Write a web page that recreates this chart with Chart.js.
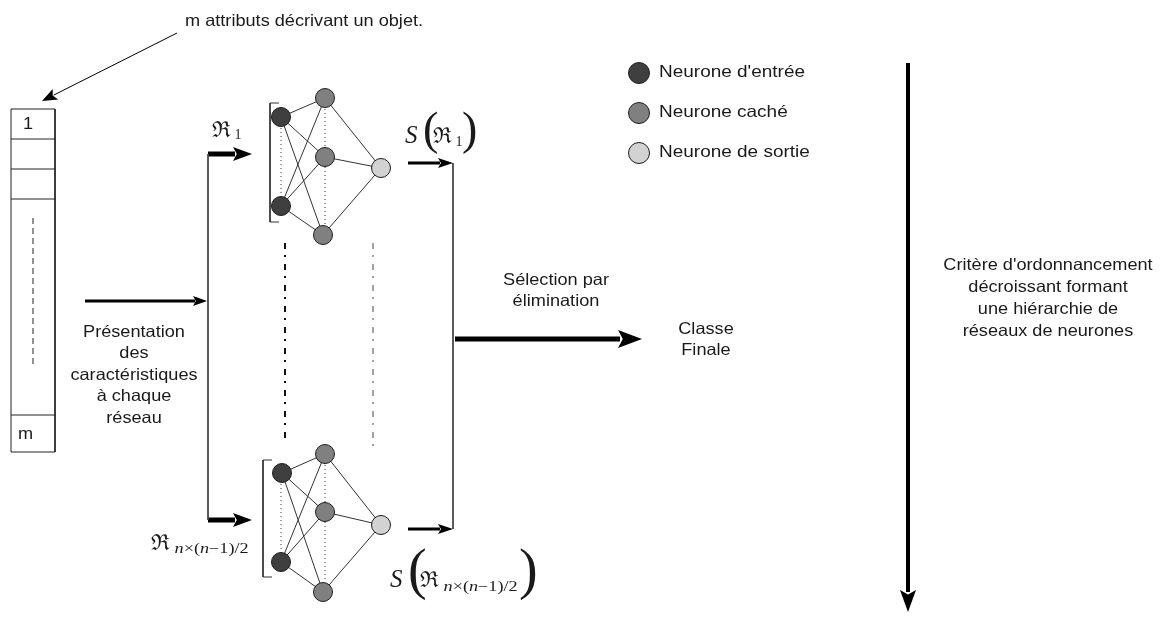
<!DOCTYPE html>
<html><head><meta charset="utf-8">
<style>html,body{margin:0;padding:0;background:#fff}canvas{display:block}</style>
<script src="https://cdn.jsdelivr.net/npm/chart.js@4/dist/chart.umd.min.js"></script>
</head><body>
<canvas id="c" width="1175" height="624"></canvas>
<script>
// ---------- diagram data (x, y in page units) ----------
const netInputs  = [[[281,117],[281,206]], [[282,473],[281,562]]];
const netHidden  = [[[325,98],[325,157],[323,235]], [[325,454],[325,512],[323,592]]];
const netOutputs = [[381,168], [381,525]];
const legendNeurons = [[639,73],[639,113],[639,153]];
const legendLabels  = ["Neurone d'entrée", "Neurone caché", "Neurone de sortie"];

const vectorBox  = [11, 55, 109, 452];          // left, right, top, bottom
const vectorRows = [139, 169, 199, 415];        // separators of attribute cells
const vectorCellLabels = [["1", 23, 124], ["m", 18, 434]];

const brackets = [[270, 279, 103, 222], [263, 272, 460, 577]];
const inputDots  = [[281,128,281,196],[281,484,281,552]];
const hiddenDots = [[325,109,325,147],[325,167,325,225],[325,465,325,502],[325,522,325,582]];
const dashDots   = [[285,243,285,440,2,'#111'],[373,243,373,452,1,'#444']];
const connectors = [[208,154,208,520],[453,163,453,529]];
const vectorDash = [33,218,33,368];

// arrows: x1,y1,x2,y2, shaft width, head length, head half width
const arrows = [
  [177,33, 42,101, 1, 15, 6],
  [85,301, 207,301, 3, 14, 5],
  [208,154, 252,154, 5, 19, 7],
  [208,520, 252,520, 5, 19, 7],
  [408,163, 453,163, 3, 15, 5],
  [408,529, 453,529, 3, 15, 5],
  [455,339, 642,339, 5, 24, 9],
  [908,63, 908,612, 4, 22, 8]
];

const textBlocks = [
  [["m attributs décrivant un objet."], 185, 21, 'left', 20],
  [["Présentation","des","caractéristiques","à chaque","réseau"], 134, 332, 'center', 21.5],
  [["Sélection par","élimination"], 556, 280, 'center', 21.5],
  [["Classe","Finale"], 706, 329, 'center', 21],
  [["Critère d'ordonnancement","décroissant formant","une hiérarchie de","réseaux de neurones"], 1048, 265, 'center', 22]
];

// ---------- build datasets ----------
const seg = (x1,y1,x2,y2,opt) => Object.assign({
  type:'scatter', showLine:true, data:[{x:x1,y:y1},{x:x2,y:y2}],
  borderColor:'#222', borderWidth:1, pointRadius:0, pointHoverRadius:0,
  clip:false, order:5, fill:false
}, opt||{});

const datasets = [];
const neuronStyle = (col) => ({type:'scatter', backgroundColor:col, borderColor:'#1e1e1e', borderWidth:1,
  pointRadius:9.5, pointHoverRadius:9.5, clip:false, order:0, showLine:false});
datasets.push(Object.assign({data: netInputs.flat().map(p=>({x:p[0],y:p[1]}))}, neuronStyle('#3f3f3f')));
datasets.push(Object.assign({data: netHidden.flat().map(p=>({x:p[0],y:p[1]}))}, neuronStyle('#808080')));
datasets.push(Object.assign({data: netOutputs.map(p=>({x:p[0],y:p[1]}))}, neuronStyle('#d2d2d2')));
datasets.push(Object.assign({data: [{x:legendNeurons[0][0],y:legendNeurons[0][1]}]}, neuronStyle('#3f3f3f'), {pointRadius:10.5}));
datasets.push(Object.assign({data: [{x:legendNeurons[1][0],y:legendNeurons[1][1]}]}, neuronStyle('#808080'), {pointRadius:10.5}));
datasets.push(Object.assign({data: [{x:legendNeurons[2][0],y:legendNeurons[2][1]}]}, neuronStyle('#d2d2d2'), {pointRadius:10.5}));

netInputs.forEach((ins, n) => {
  ins.forEach(i => netHidden[n].forEach(h => datasets.push(seg(i[0],i[1],h[0],h[1],{borderColor:'#333'}))));
  netHidden[n].forEach(h => datasets.push(seg(h[0],h[1],netOutputs[n][0],netOutputs[n][1],{borderColor:'#333'})));
});
const [bl,br,bt,bb] = vectorBox;
datasets.push(seg(bl,bt,br,bt)); datasets.push(seg(br,bt,br,bb));
datasets.push(seg(br,bb,bl,bb)); datasets.push(seg(bl,bb,bl,bt));
vectorRows.forEach(y => datasets.push(seg(bl,y,br,y)));
datasets.push(seg(...vectorDash,{borderDash:[6,4]}));
brackets.forEach(([x,xe,t,b]) => {
  datasets.push(seg(x,t,x,b,{borderColor:'#333'}));
  datasets.push(seg(x,t,xe,t,{borderColor:'#333'}));
  datasets.push(seg(x,b,xe,b,{borderColor:'#333'}));
});
inputDots.concat(hiddenDots).forEach(d => datasets.push(seg(...d,{borderDash:[1,3],borderColor:'#333'})));
dashDots.forEach(([x1,y1,x2,y2,w,c]) => datasets.push(seg(x1,y1,x2,y2,{borderDash:[6,6,2,7],borderWidth:w,borderColor:c})));
connectors.forEach(d => datasets.push(seg(...d,{borderColor:'#444'})));
arrows.forEach(([x1,y1,x2,y2,w,hl]) => {
  const L = Math.hypot(x2-x1,y2-y1), ux=(x2-x1)/L, uy=(y2-y1)/L;
  datasets.push(seg(x1,y1,x2-ux*(hl-2),y2-uy*(hl-2),{borderWidth:w,borderColor:'#000',borderCapStyle:'butt'}));
});

// ---------- plugin for arrowheads & text ----------
const HS = 1.1; // horizontal stretch of the reference lettering
const drawPlugin = {
  id:'drawExtras',
  afterDatasetsDraw(chart){
    const ctx = chart.ctx, sx = chart.scales.x, sy = chart.scales.y;
    const X = v => sx.getPixelForValue(v), Y = v => sy.getPixelForValue(v);
    const txt = (t, x, y, align, k) => {
      k = k || HS;
      const w = ctx.measureText(t).width * k;
      let left = x;
      if (align === 'center') left = x - w/2; else if (align === 'right') left = x - w;
      ctx.save(); ctx.translate(left, y); ctx.scale(k,1); ctx.textAlign='left'; ctx.fillText(t,0,0); ctx.restore();
      return w;
    };
    ctx.save();
    ctx.fillStyle = '#000';
    arrows.forEach(([x1,y1,x2,y2,w,hl,hw]) => {
      const ax=X(x1), ay=Y(y1), bx=X(x2), by=Y(y2);
      const L=Math.hypot(bx-ax,by-ay), ux=(bx-ax)/L, uy=(by-ay)/L;
      const px=-uy, py=ux, cx=bx-ux*hl, cy=by-uy*hl;
      ctx.beginPath();
      ctx.moveTo(bx,by);
      ctx.lineTo(cx+px*hw, cy+py*hw);
      ctx.lineTo(bx-ux*hl*0.8, by-uy*hl*0.8);
      ctx.lineTo(cx-px*hw, cy-py*hw);
      ctx.closePath(); ctx.fill();
    });
    ctx.fillStyle = '#1a1a1a';
    ctx.font = '16.5px "Liberation Sans", Arial, sans-serif';
    ctx.textBaseline = 'middle';
    textBlocks.forEach(([lines,x,y,al,lh]) => {
      lines.forEach((t,i) => txt(t, X(x), Y(y+i*lh), al));
    });
    legendLabels.forEach((t,i) => txt(t, X(legendNeurons[i][0]+20), Y(legendNeurons[i][1]-1), 'left', 1.15));
    vectorCellLabels.forEach(([t,x,y]) => txt(t, X(x), Y(y), 'left'));
    ctx.textBaseline = 'alphabetic';
    const seq = (x, y, parts) => {
      let cx = X(x);
      parts.forEach(([t,f,dy,k]) => { ctx.font=f; cx += txt(t, cx, Y(y+(dy||0)), 'left', k||1); });
    };
    const R = '22px "DejaVu Serif", serif';
    const sub = '14px "Liberation Serif", serif';
    const subI = 'italic 14px "Liberation Serif", serif';
    const S = 'italic 25px "Liberation Serif", serif';
    const P1 = '46px "Liberation Serif", serif', P2 = '56px "Liberation Serif", serif';
    seq(212,137,[["ℜ",R],[" 1",sub,2]]);
    seq(405,143,[["S",S]]);
    seq(423,144,[["(", P1]]);
    seq(433,143,[["ℜ",R],[" 1",sub,3]]);
    seq(462,144,[[")", P1]]);
    seq(151,550,[["ℜ",R],[" ",sub,0,1.3],["n",subI,3,1.3],["×(",sub,3,1.3],["n",subI,3,1.3],["−1)/2",sub,3,1.3]]);
    seq(390,587,[["S",S]]);
    seq(408,588,[["(", P2]]);
    seq(420,587,[["ℜ",R],[" ",sub,0,1.3],["n",subI,4,1.3],["×(",sub,4,1.3],["n",subI,4,1.3],["−1)/2",sub,4,1.3]]);
    seq(519,588,[[")", P2]]);
    ctx.restore();
  }
};

new Chart(document.getElementById('c'), {
  type:'scatter',
  data:{datasets},
  options:{
    responsive:false, animation:false, events:[],
    layout:{padding:0, autoPadding:false},
    plugins:{legend:{display:false}, tooltip:{enabled:false}},
    scales:{
      x:{type:'linear', min:0, max:1175, display:false},
      y:{type:'linear', min:0, max:624, reverse:true, display:false}
    }
  },
  plugins:[drawPlugin]
});
</script>
</body></html>
